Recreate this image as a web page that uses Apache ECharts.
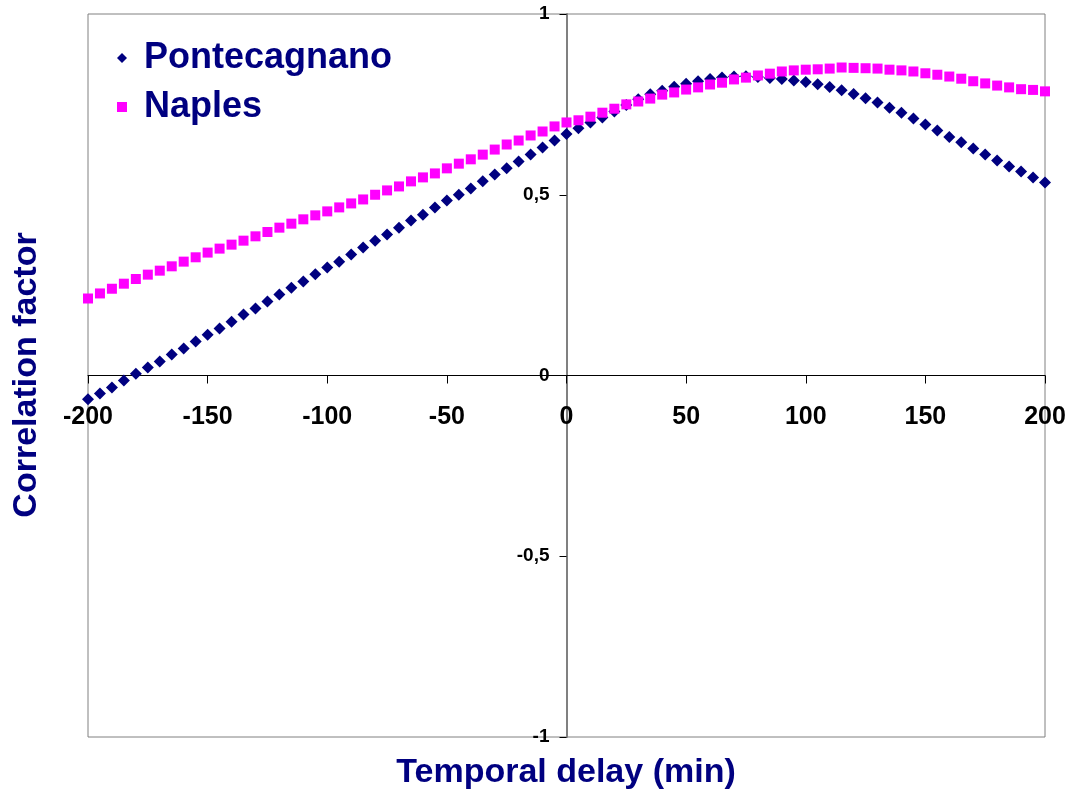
<!DOCTYPE html>
<html>
<head>
<meta charset="utf-8">
<script src="https://cdn.jsdelivr.net/npm/echarts@6/dist/echarts.min.js"></script>
<style>
html,body{margin:0;padding:0;background:#fff;}
#chart{width:1071px;height:794px;}
</style>
</head>
<body>
<div id="chart"></div>
<script>
// Temporal delay (min), step 5 from -200 to 200
var delays = [];
for (var d = -200; d <= 200; d += 5) delays.push(d);

var pontecagnano = [
-0.066,-0.050,-0.033,-0.014,0.005,0.022,0.039,0.058,0.075,0.094,
0.113,0.130,0.149,0.169,0.185,0.205,0.224,0.243,0.260,0.280,
0.299,0.315,0.335,0.354,0.373,0.390,0.409,0.429,0.445,0.465,
0.484,0.500,0.517,0.537,0.556,0.573,0.592,0.611,0.631,0.650,
0.668,0.684,0.700,0.714,0.730,0.748,0.764,0.778,0.788,0.799,
0.807,0.814,0.820,0.824,0.827,0.828,0.826,0.823,0.820,0.816,
0.812,0.806,0.798,0.789,0.779,0.767,0.755,0.741,0.727,0.711,
0.694,0.678,0.660,0.645,0.628,0.611,0.595,0.578,0.564,0.548,
0.534
];

var naples = [
0.213,0.227,0.240,0.254,0.267,0.279,0.290,0.302,0.315,0.327,
0.340,0.351,0.362,0.373,0.385,0.397,0.409,0.420,0.432,0.443,
0.454,0.465,0.476,0.487,0.500,0.512,0.523,0.537,0.548,0.559,
0.573,0.586,0.598,0.611,0.625,0.639,0.650,0.664,0.675,0.689,
0.700,0.706,0.716,0.727,0.738,0.750,0.758,0.766,0.777,0.783,
0.791,0.797,0.805,0.810,0.819,0.824,0.830,0.835,0.841,0.844,
0.846,0.847,0.849,0.852,0.851,0.850,0.849,0.846,0.844,0.841,
0.836,0.832,0.827,0.821,0.814,0.808,0.802,0.797,0.792,0.790,
0.786
];

var seriesNames = ['Pontecagnano', 'Naples'];
var xTitle = 'Temporal delay (min)';
var yTitle = 'Correlation factor';

function pairs(vals) {
  return delays.map(function (x, i) { return [x, vals[i]]; });
}

var FONT = '"Liberation Sans", Arial, sans-serif';
var NAVY = '#000080';
var MAGENTA = '#FF00FF';

var GRID_W = 957, GRID_H = 723;

var chart = echarts.init(document.getElementById('chart'));
chart.setOption({
  animation: false,
  backgroundColor: '#ffffff',
  grid: {
    left: 88, top: 14, width: GRID_W, height: GRID_H,
    show: true, borderColor: '#808080', borderWidth: 1, backgroundColor: 'transparent'
  },
  xAxis: {
    type: 'value', min: -200, max: 200, interval: 50, position: 'bottom',
    offset: -GRID_H / 2,
    axisLine: { onZero: false, lineStyle: { color: '#000000', width: 1 } },
    axisTick: { show: true, inside: false, length: 8, lineStyle: { color: '#000000' } },
    splitLine: { show: false },
    axisLabel: { margin: 29, color: '#000000', fontSize: 25, fontWeight: 'bold', fontFamily: FONT }
  },
  yAxis: {
    type: 'value', min: -1, max: 1, interval: 0.5, position: 'left',
    offset: -GRID_W / 2,
    axisLine: { onZero: false, lineStyle: { color: '#808080', width: 2 } },
    axisTick: { show: true, inside: false, length: 7, lineStyle: { color: '#000000' } },
    splitLine: { show: false },
    axisLabel: {
      margin: 17, color: '#000000', fontSize: 19, fontWeight: 'bold', fontFamily: FONT,
      formatter: function (v) { return String(v).replace('.', ','); }
    }
  },
  legend: {
    orient: 'vertical', left: 117, top: 40, padding: 0,
    itemWidth: 10, itemHeight: 10, itemGap: 13,
    data: [
      { name: seriesNames[0], icon: 'diamond' },
      { name: seriesNames[1], icon: 'rect' }
    ],
    textStyle: { color: NAVY, fontSize: 36, fontWeight: 'bold', fontFamily: FONT, lineHeight: 34, padding: [0, 0, 0, 12] }
  },
  graphic: [
    {
      type: 'text', x: 566, y: 773,
      style: { text: xTitle, fill: NAVY, font: 'bold 34px ' + FONT, align: 'center', verticalAlign: 'middle' }
    },
    {
      type: 'text', x: 10, y: 375, rotation: Math.PI / 2,
      style: { text: yTitle, fill: NAVY, font: 'bold 34px ' + FONT, align: 'center', verticalAlign: 'top' }
    }
  ],
  series: [
    {
      name: seriesNames[0], type: 'line', data: pairs(pontecagnano),
      lineStyle: { width: 0 }, symbol: 'diamond', symbolSize: 12, showSymbol: true,
      itemStyle: { color: NAVY }, z: 2
    },
    {
      name: seriesNames[1], type: 'line', data: pairs(naples),
      lineStyle: { width: 0 }, symbol: 'rect', symbolSize: 10, showSymbol: true,
      itemStyle: { color: MAGENTA }, z: 3
    }
  ]
});
</script>
</body>
</html>
